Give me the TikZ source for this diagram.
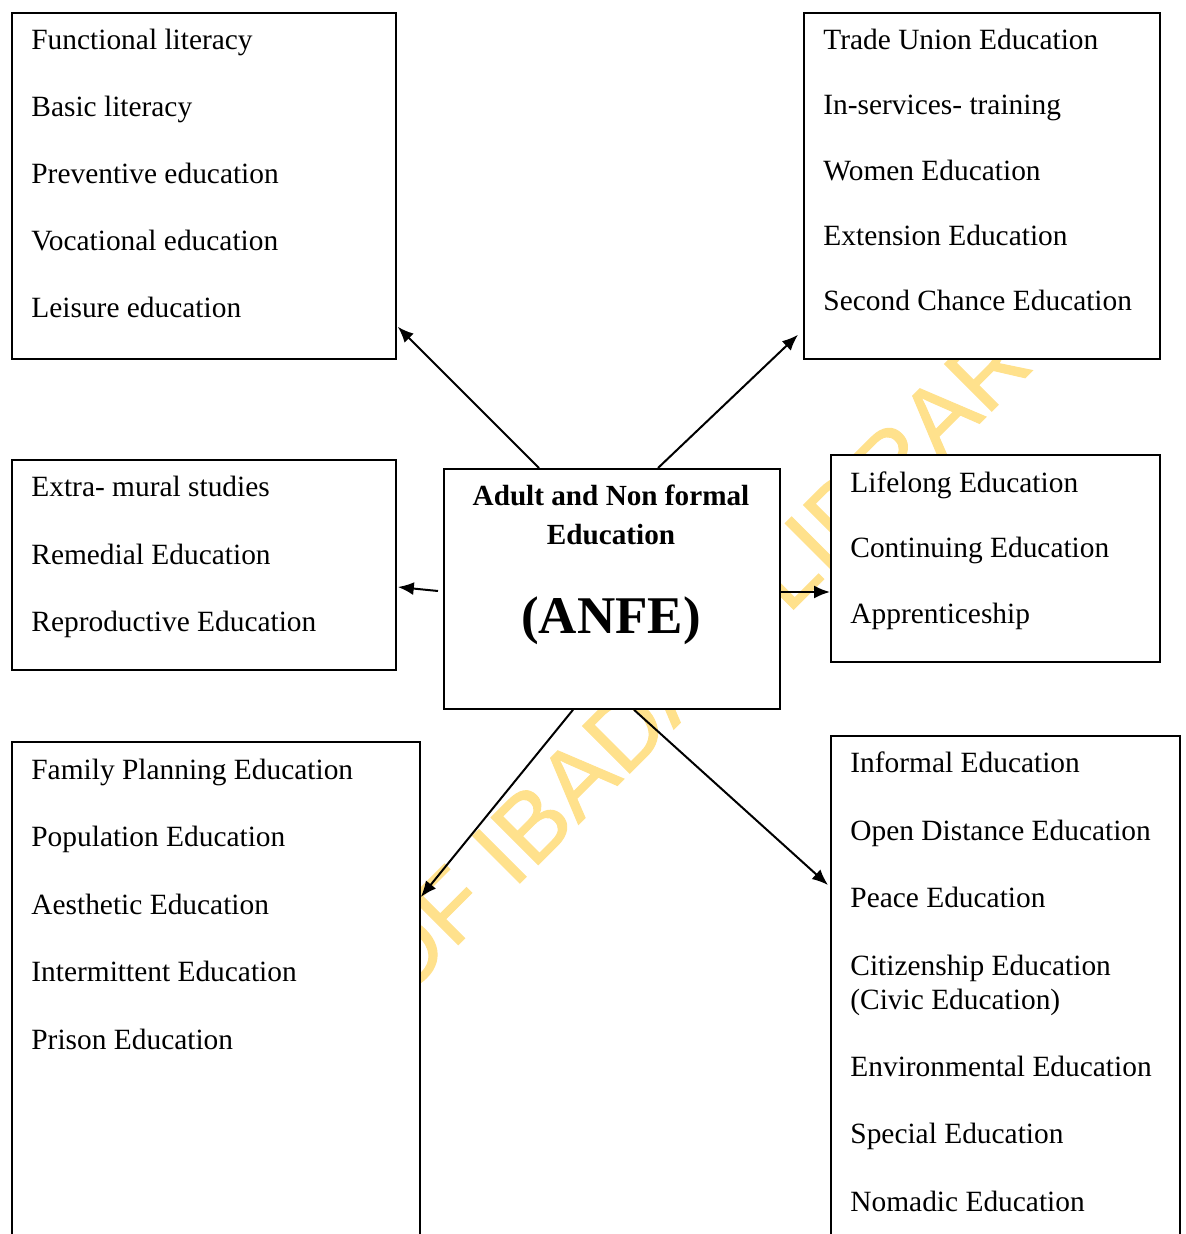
\documentclass[tikz,border=0pt]{standalone}
\usepackage{fontspec}
\setmainfont{Liberation Serif}
\newfontfamily\wmfont[FakeBold=1]{Liberation Sans}
\usetikzlibrary{arrows.meta,calc}
\definecolor{wmyellow}{RGB}{255,225,140}
\begin{document}
\begin{tikzpicture}[x=0.5pt,y=-0.5pt,
  box/.style={draw, line width=0.9pt, fill=white, inner sep=0pt, anchor=north west},
  item/.style={anchor=base west, inner sep=0pt, font=\fontsize{14.7pt}{17pt}\selectfont},
  title/.style={anchor=base, inner sep=0pt, font=\fontsize{14.6pt}{17pt}\selectfont\bfseries},
  arr/.style={line width=1pt, -{Latex[length=8pt,width=6.5pt]}},
  wm/.style={text=wmyellow, inner sep=0pt, font=\fontsize{48.5pt}{50pt}\wmfont}]
\useasboundingbox (0,0) rectangle (1185,1234);
\clip (0,0) rectangle (1185,1234);
\fill[white] (0,0) rectangle (1185,1234);
% watermark
\node[wm, rotate=45, anchor=base west] (wmark) at (399,1004) {OF IBADAN LIBRARY};
% boxes
\node[box, minimum width=192pt, minimum height=173pt] (tl) at (11,12) {};
\node[box, minimum width=178pt, minimum height=173pt] (tr) at (803,12) {};
\node[box, minimum width=192pt, minimum height=105pt] (ml) at (11,459) {};
\node[box, minimum width=168pt, minimum height=120pt] (anfe) at (443,468) {};
\node[box, minimum width=164.5pt, minimum height=103.5pt] (mr) at (830,454) {};
\node[box, minimum width=204pt, minimum height=270pt] (bl) at (11,741) {};
\node[box, minimum width=174.5pt, minimum height=275pt] (br) at (830,735) {};
% top left
\node[item] (tl1) at (31,50) {Functional literacy};
\node[item] (tl2) at (31,117) {Basic literacy};
\node[item] (tl3) at (31,184) {Preventive education};
\node[item] (tl4) at (31,251) {Vocational education};
\node[item] (tl5) at (31,318) {Leisure education};
% top right
\node[item] (tr1) at (823,50) {Trade Union Education};
\node[item] (tr2) at (823,115) {In-services- training};
\node[item] (tr3) at (823,181) {Women Education};
\node[item] (tr4) at (823,246) {Extension Education};
\node[item] (tr5) at (823,311) {Second Chance Education};
% middle left
\node[item] (ml1) at (31,496) {Extra- mural studies};
\node[item] (ml2) at (31,564) {Remedial Education};
\node[item] (ml3) at (31,631) {Reproductive Education};
% middle right
\node[item] (mr1) at (850,492) {Lifelong Education};
\node[item] (mr2) at (850,557) {Continuing Education};
\node[item] (mr3) at (850,623) {Apprenticeship};
% bottom left
\node[item] (bl1) at (31,779) {Family Planning Education};
\node[item] (bl2) at (31,846) {Population Education};
\node[item] (bl3) at (31,914) {Aesthetic Education};
\node[item] (bl4) at (31,981) {Intermittent Education};
\node[item] (bl5) at (31,1049) {Prison Education};
% bottom right
\node[item] (br1) at (850,772) {Informal Education};
\node[item] (br2) at (850,840) {Open Distance Education};
\node[item] (br3) at (850,907) {Peace Education};
\node[item] (br4) at (850,975) {Citizenship Education};
\node[item] (br4b) at (850,1009) {(Civic Education)};
\node[item] (br5) at (850,1076) {Environmental Education};
\node[item] (br6) at (850,1143) {Special Education};
\node[item] (br7) at (850,1211) {Nomadic Education};
% centre
\node[title] (t1) at (611,505) {Adult and Non formal};
\node[title] (t2) at (611,544) {Education};
\node[anchor=base, inner sep=0pt, font=\fontsize{26.5pt}{30pt}\selectfont\bfseries] (t3) at (611,633) {(ANFE)};
% arrows
\draw[arr] ($(anfe.north west)+(96,0)$) -- ($(tl.south east)+(1,-33)$);
\draw[arr] ($(anfe.north west)+(215,0)$) -- ($(tr.south west)+(-5,-25)$);
\draw[arr] ($(anfe.north west)+(-5,123)$) -- ($(ml.north east)+(1,128)$);
\draw[arr] ($(anfe.north east)+(0,124)$) -- ($(mr.north west)+(0,138)$);
\draw[arr] ($(anfe.south west)+(130,0)$) -- ($(bl.north east)+(0,156)$);
\draw[arr] ($(anfe.south west)+(191,0)$) -- ($(br.north west)+(-2,150)$);
\end{tikzpicture}
\end{document}
